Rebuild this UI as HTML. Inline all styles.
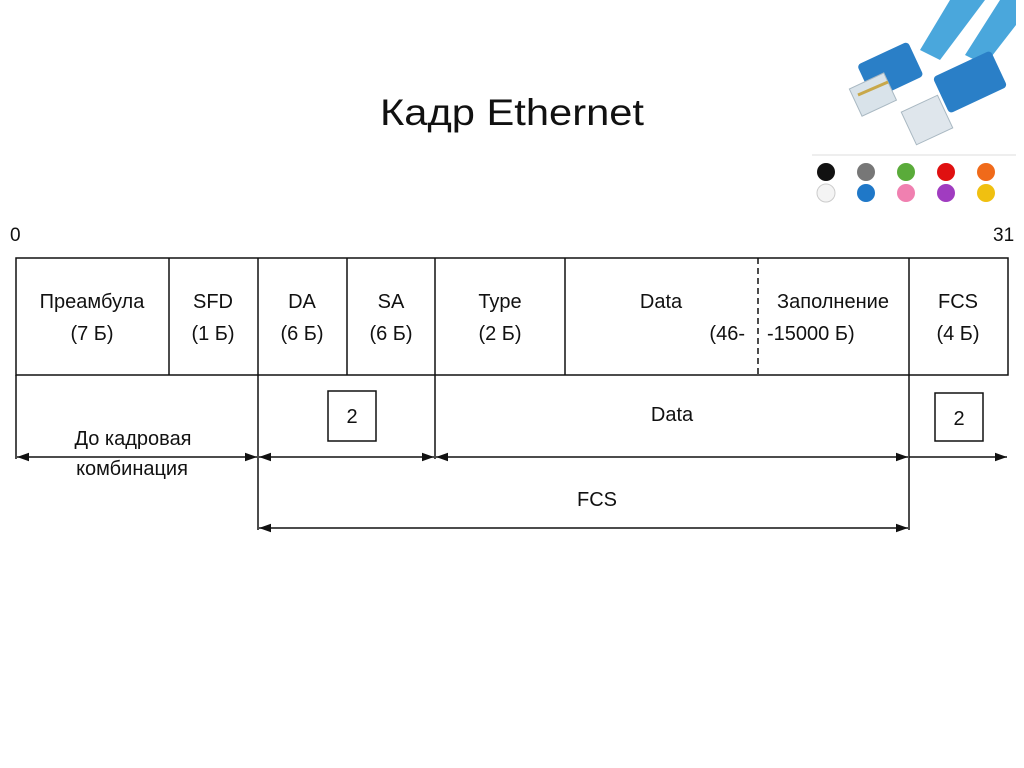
<!DOCTYPE html>
<html><head><meta charset="utf-8"><style>
html,body{margin:0;padding:0;background:#fff;}
svg{display:block;}
text{font-family:"Liberation Sans","DejaVu Sans",sans-serif;fill:#111;}
</style></head><body>
<svg width="1024" height="768" viewBox="0 0 1024 768" xmlns="http://www.w3.org/2000/svg">
<defs>
<marker id="ah" viewBox="0 0 10 10" refX="10" refY="5" markerWidth="12" markerHeight="12" orient="auto-start-reverse" markerUnits="userSpaceOnUse"><path d="M0,1.5 L10,5 L0,8.5 z" fill="#111"/></marker>
</defs>
<text x="512" y="125" font-size="37" text-anchor="middle" textLength="264" lengthAdjust="spacingAndGlyphs">Кадр Ethernet</text>

<g>
<path d="M950,0 L985,0 L940,60 L920,50 Z" fill="#4aa7dc"/>
<path d="M1000,0 L1016,0 L1016,25 L985,65 L965,55 Z" fill="#4aa7dc"/>
<rect x="862" y="52" width="56" height="38" rx="4" fill="#2a7fc7" transform="rotate(-25 889 70)"/>
<rect x="854" y="80" width="38" height="30" fill="#d9e3ea" stroke="#a9b8c2" transform="rotate(-25 872 95)"/>
<line x1="858" y1="95" x2="888" y2="82" stroke="#c8a84a" stroke-width="3"/>
<rect x="938" y="62" width="64" height="40" rx="4" fill="#2a7fc7" transform="rotate(-25 970 82)"/>
<rect x="907" y="102" width="40" height="36" fill="#dfe6ec" stroke="#a9b8c2" transform="rotate(-25 927 120)"/>
<line x1="812" y1="155" x2="1016" y2="155" stroke="#ddd"/>
<g>
<circle cx="826" cy="172" r="9" fill="#111"/><circle cx="866" cy="172" r="9" fill="#777"/><circle cx="906" cy="172" r="9" fill="#5aab3a"/><circle cx="946" cy="172" r="9" fill="#e01010"/><circle cx="986" cy="172" r="9" fill="#f06a1a"/>
<circle cx="826" cy="193" r="9" fill="#f4f4f4" stroke="#ccc"/><circle cx="866" cy="193" r="9" fill="#1f78c8"/><circle cx="906" cy="193" r="9" fill="#f080b0"/><circle cx="946" cy="193" r="9" fill="#a03cc0"/><circle cx="986" cy="193" r="9" fill="#f0c010"/>
</g>
</g>

<text x="10" y="241" font-size="19">0</text>
<text x="993" y="241" font-size="19">31</text>

<g stroke="#111" stroke-width="1.5" fill="none">
<rect x="16" y="258" width="992" height="117"/>
<line x1="169" y1="258" x2="169" y2="375"/>
<line x1="258" y1="258" x2="258" y2="375"/>
<line x1="347" y1="258" x2="347" y2="375"/>
<line x1="435" y1="258" x2="435" y2="375"/>
<line x1="565" y1="258" x2="565" y2="375"/>
<line x1="758" y1="258" x2="758" y2="375" stroke-dasharray="6,4"/>
<line x1="909" y1="258" x2="909" y2="375"/>
<line x1="16" y1="375" x2="16" y2="459"/>
<line x1="258" y1="375" x2="258" y2="530"/>
<line x1="435" y1="375" x2="435" y2="459"/>
<line x1="909" y1="375" x2="909" y2="530"/>
<rect x="328" y="391" width="48" height="50"/>
<rect x="935" y="393" width="48" height="48"/>
<line x1="17" y1="457" x2="257" y2="457" marker-start="url(#ah)" marker-end="url(#ah)"/>
<line x1="259" y1="457" x2="434" y2="457" marker-start="url(#ah)" marker-end="url(#ah)"/>
<line x1="436" y1="457" x2="908" y2="457" marker-start="url(#ah)" marker-end="url(#ah)"/>
<line x1="909" y1="457" x2="1007" y2="457" marker-end="url(#ah)"/>
<line x1="259" y1="528" x2="908" y2="528" marker-start="url(#ah)" marker-end="url(#ah)"/>
</g>

<g font-size="20" text-anchor="middle">
<text x="92" y="308">Преамбула</text><text x="92" y="340">(7 Б)</text>
<text x="213" y="308">SFD</text><text x="213" y="340">(1 Б)</text>
<text x="302" y="308">DA</text><text x="302" y="340">(6 Б)</text>
<text x="391" y="308">SA</text><text x="391" y="340">(6 Б)</text>
<text x="500" y="308">Type</text><text x="500" y="340">(2 Б)</text>
<text x="661" y="308">Data</text>
<text x="745" y="340" text-anchor="end">(46-</text>
<text x="833" y="308">Заполнение</text>
<text x="767" y="340" text-anchor="start">-15000 Б)</text>
<text x="958" y="308">FCS</text><text x="958" y="340">(4 Б)</text>
<text x="352" y="423">2</text>
<text x="959" y="425">2</text>
<text x="672" y="421">Data</text>
<text x="133" y="445">До кадровая</text>
<text x="132" y="475">комбинация</text>
<text x="597" y="506">FCS</text>
</g>
</svg>
</body></html>
